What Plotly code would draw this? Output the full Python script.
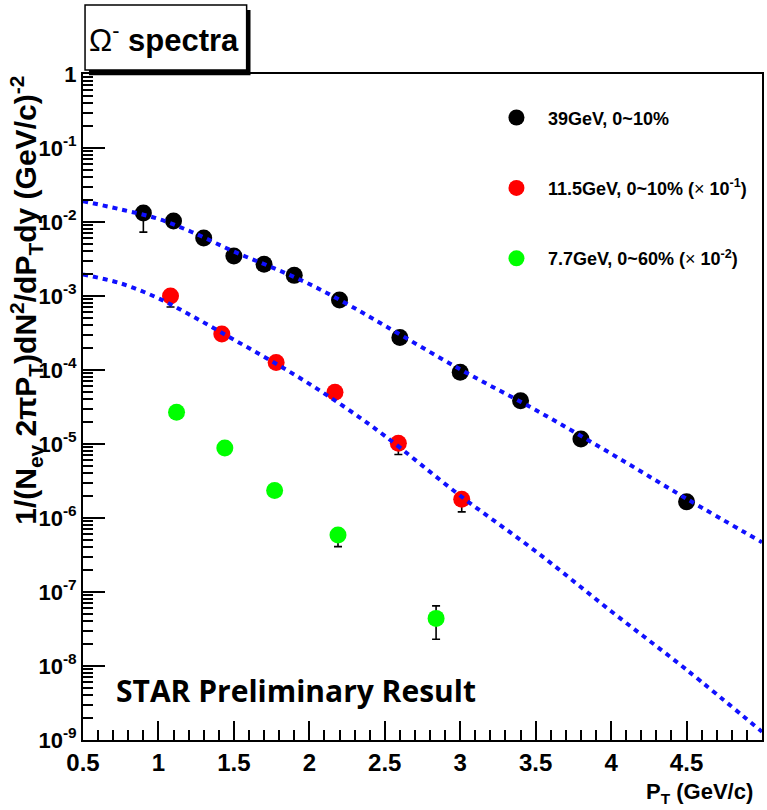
import plotly.graph_objects as go

# --- Omega spectra: measured points -------------------------------------
pt_39 = [0.9, 1.1, 1.3, 1.5, 1.7, 1.9, 2.2, 2.6, 3.0, 3.4, 3.8, 4.5]
y_39 = [1.32e-2, 1.03e-2, 6.1e-3, 3.47e-3, 2.69e-3, 1.9e-3, 8.8e-4, 2.75e-4,
        9.3e-5, 3.85e-5, 1.17e-5, 1.66e-6]
err_lo_39 = [5.9e-3, 1.0e-3, 5.0e-4, 3.0e-4, 2.5e-4, 1.5e-4, 7.0e-5, 2.5e-5,
             8.0e-6, 3.5e-6, 1.2e-6, 2.5e-7]
err_hi_39 = [3.0e-3, 1.0e-3, 5.0e-4, 3.0e-4, 2.5e-4, 1.5e-4, 7.0e-5, 2.5e-5,
             8.0e-6, 3.5e-6, 1.2e-6, 2.5e-7]

pt_115 = [1.08, 1.42, 1.78, 2.17, 2.59, 3.01]
y_115 = [1.0e-3, 3.06e-4, 1.26e-4, 5.0e-5, 1.02e-5, 1.79e-6]
err_lo_115 = [2.9e-4, 4.0e-5, 1.5e-5, 6.0e-6, 3.0e-6, 5.8e-7]
err_hi_115 = [1.5e-4, 4.0e-5, 1.5e-5, 6.0e-6, 1.5e-6, 3.0e-7]

pt_77 = [1.12, 1.44, 1.77, 2.19, 2.84]
y_77 = [2.69e-5, 8.8e-6, 2.35e-6, 5.9e-7, 4.4e-8]
err_lo_77 = [3.0e-6, 1.0e-6, 3.0e-7, 1.8e-7, 2.1e-8]
err_hi_77 = [3.0e-6, 1.0e-6, 3.0e-7, 1.0e-7, 2.1e-8]

# --- fit curves ----------------------------------------------------------
fit_pt = [0.5, 0.75, 1.0, 1.25, 1.5, 1.75, 2.0, 2.25, 2.5, 3.0, 3.5, 4.0, 4.5, 5.0]
fit_39 = [1.91e-2, 1.48e-2, 1.10e-2, 6.9e-3, 3.98e-3, 2.45e-3, 1.45e-3, 7.8e-4,
          3.98e-4, 1.02e-4, 2.88e-5, 7.4e-6, 1.82e-6, 4.7e-7]
fit_115 = [1.95e-3, 1.48e-3, 9.3e-4, 5.0e-4, 2.57e-4, 1.32e-4, 6.5e-5, 3.0e-5,
           1.29e-5, 2.0e-6, 3.55e-7, 5.5e-8, 8.9e-9, 1.29e-9]

labels = ["39GeV, 0~10%",
          "11.5GeV, 0~10% (<span style='font-weight:normal'>×</span> 10<sup>-1</sup>)",
          "7.7GeV, 0~60% (<span style='font-weight:normal'>×</span> 10<sup>-2</sup>)"]
colors = ["#000000", "#ff0000", "#00ff00"]

x_tickvals = [0.5, 1, 1.5, 2, 2.5, 3, 3.5, 4, 4.5, 5]
x_ticktext = ["0.5", "1", "1.5", "2", "2.5", "3", "3.5", "4", "4.5", "5"]
y_tickvals = [10.0 ** e for e in range(-9, 1)]
y_ticktext = ["10<sup>-%d</sup>" % (-e) for e in range(-9, 0)] + ["1"]

FONT = "Liberation Sans Narrow, Liberation Sans, Arial, sans-serif"

fig = go.Figure()

series = [(pt_39, y_39, err_lo_39, err_hi_39),
          (pt_115, y_115, err_lo_115, err_hi_115),
          (pt_77, y_77, err_lo_77, err_hi_77)]

# error bars first so the markers sit on top of them
for xs, ys, elo, ehi in series:
    fig.add_trace(go.Scatter(
        x=xs, y=ys, mode="markers", showlegend=False, hoverinfo="skip",
        marker=dict(size=1, color="rgba(0,0,0,0)"),
        error_y=dict(type="data", symmetric=False, array=ehi, arrayminus=elo,
                     visible=True, color="black", thickness=1.6, width=4),
    ))

for i, (xs, ys, elo, ehi) in enumerate(series):
    fig.add_trace(go.Scatter(
        x=xs, y=ys, mode="markers", name=labels[i],
        legendgroup="g%d" % i,
        marker=dict(color=colors[i], size=17, symbol="circle"),
    ))

for fy in (fit_39, fit_115):
    fig.add_trace(go.Scatter(
        x=fit_pt, y=fy, mode="lines", showlegend=False, hoverinfo="skip",
        line=dict(color="#1010ff", width=4, dash="5px,5px", shape="spline"),
    ))

minor_y = [m * 10.0 ** e for e in range(-9, 0) for m in range(2, 10)]

fig.update_xaxes(
    range=[0.5, 5], tickvals=x_tickvals, ticktext=x_ticktext,
    ticks="inside", ticklen=19, tickwidth=1.5, tickcolor="black",
    minor=dict(dtick=0.1, ticks="inside", ticklen=10, tickwidth=1.5,
               tickcolor="black", showgrid=False),
    showline=True, linecolor="black", linewidth=2, mirror=True,
    showgrid=False, zeroline=False,
    tickfont=dict(family=FONT, size=24, color="black", weight="bold"),
)
fig.update_yaxes(
    type="log", range=[-9, 0], tickvals=y_tickvals, ticktext=y_ticktext,
    ticks="inside", ticklen=22, tickwidth=1.5, tickcolor="black",
    minor=dict(tickvals=minor_y, ticks="inside", ticklen=10, tickwidth=1.5,
               tickcolor="black", showgrid=False),
    showline=True, linecolor="black", linewidth=2, mirror=True,
    showgrid=False, zeroline=False,
    tickfont=dict(family=FONT, size=22, color="black", weight="bold"),
)

# title box with drop shadow
fig.add_shape(type="rect", xref="paper", yref="paper",
              x0=0.0088, x1=0.2467, y0=0.998, y1=1.096,
              fillcolor="black", line=dict(width=0), layer="above")
fig.add_shape(type="rect", xref="paper", yref="paper",
              x0=0.003, x1=0.241, y0=1.006, y1=1.1036,
              fillcolor="white", line=dict(color="black", width=1.5), layer="above")

annotations = [
    dict(text="Ω<sup>-</sup> <b>spectra</b>", xref="paper", yref="paper",
         x=0.12, y=1.054, xanchor="center", yanchor="middle", showarrow=False,
         font=dict(family=FONT, size=31, color="black")),
    dict(text="P<sub>T</sub> (GeV/c)", xref="paper", yref="paper",
         x=0.99, y=-0.055, xanchor="right", yanchor="top", showarrow=False,
         font=dict(family=FONT, size=22, color="black", weight="bold")),
    dict(text="1/(N<sub>ev</sub> 2πP<sub>T</sub>)dN<sup>2</sup>/dP<sub>T</sub>dy (GeV/c)<sup>-2</sup>",
         xref="paper", yref="paper", x=-0.085, y=1.0, xanchor="center",
         yanchor="top", textangle=-90, showarrow=False,
         font=dict(family=FONT, size=30, color="black", weight="bold")),
    dict(text="STAR Preliminary Result", xref="paper", yref="paper",
         x=0.313, y=0.075, xanchor="center", yanchor="middle", showarrow=False,
         font=dict(family="Open Sans, Lato, sans-serif", size=30, color="black",
                   weight="bold")),
]

fig.update_layout(
    width=767, height=810,
    margin=dict(l=83, r=3, t=74, b=70),
    paper_bgcolor="white", plot_bgcolor="white",
    annotations=annotations,
    showlegend=True,
    legend=dict(x=0.592, y=0.962, xanchor="left", yanchor="top",
                bgcolor="rgba(0,0,0,0)", borderwidth=0, itemwidth=53,
                traceorder="grouped", tracegroupgap=44,
                font=dict(family=FONT, size=18, color="black", weight="bold")),
)

fig.write_html("out.html")
